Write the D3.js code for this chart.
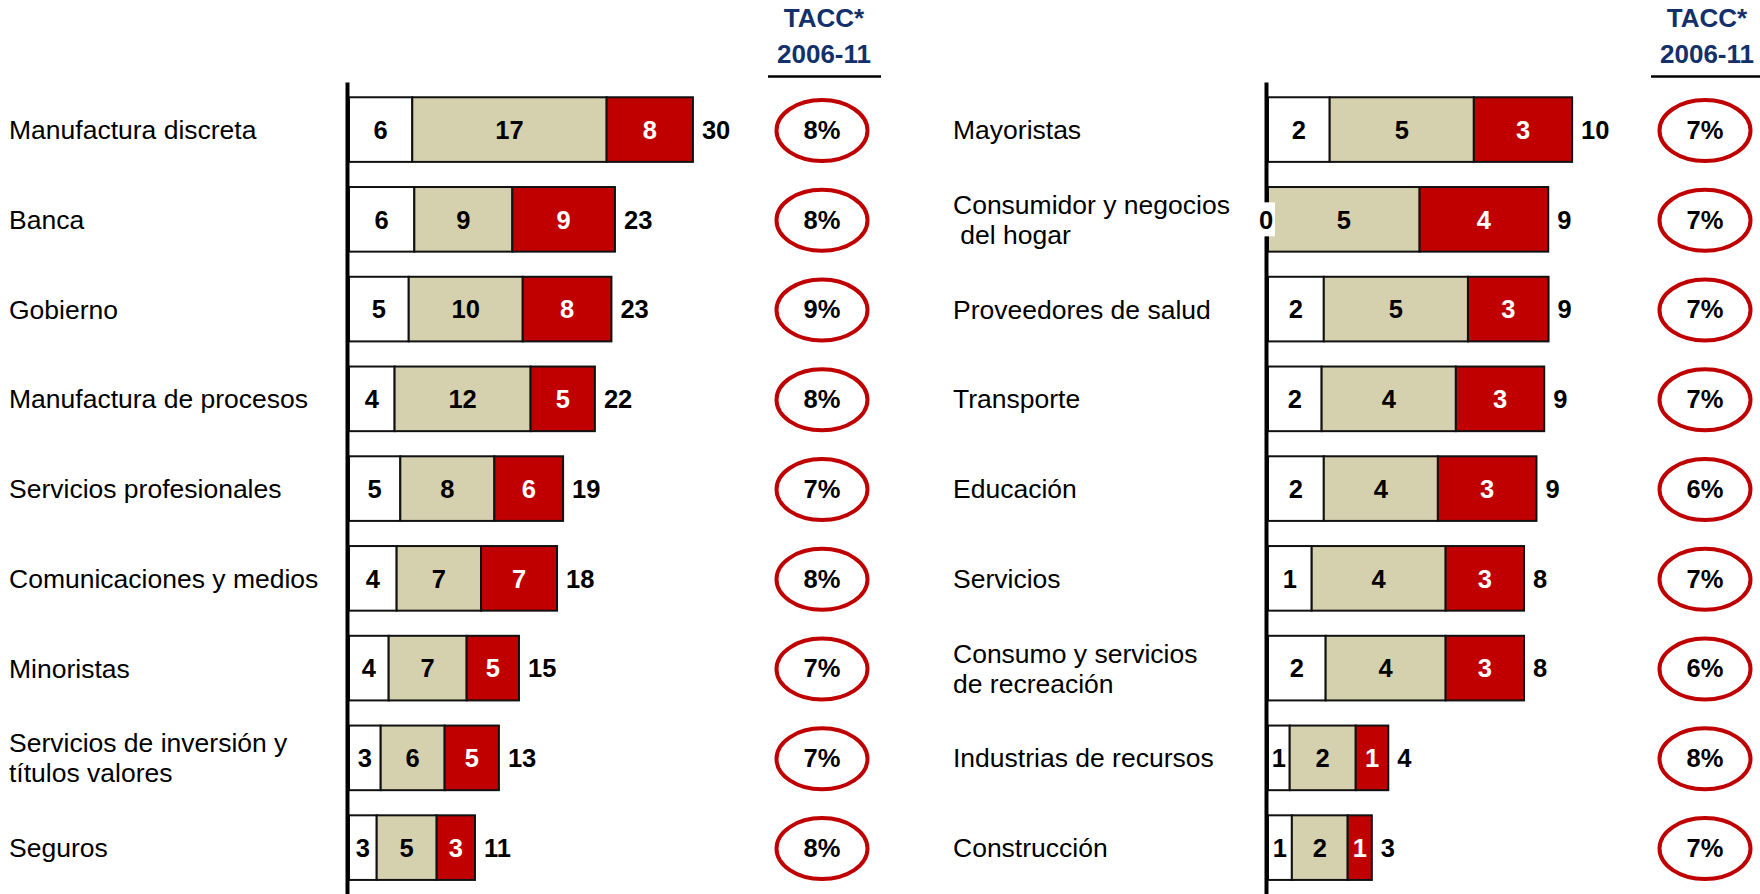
<!DOCTYPE html>
<html>
<head>
<meta charset="utf-8">
<script src="https://cdn.jsdelivr.net/npm/d3@7/dist/d3.min.js"></script>
<style>
  html, body { margin: 0; padding: 0; background: #fff; }
  svg { display: block; }
  text { font-family: "Liberation Sans", Arial, sans-serif; white-space: pre; }
</style>
</head>
<body>
<svg id="chart" width="1760" height="894"></svg>
<script>
// ---------- DATA ----------
const leftCategories = [
  ["Manufactura discreta"],
  ["Banca"],
  ["Gobierno"],
  ["Manufactura de procesos"],
  ["Servicios profesionales"],
  ["Comunicaciones y medios"],
  ["Minoristas"],
  ["Servicios de inversión y", "títulos valores"],
  ["Seguros"]
];
// segment values (white, tan, red)
const leftWhite = [5.55, 5.73, 5.24, 4.00, 4.50, 4.18, 3.48, 2.78, 2.43];
const leftTan   = [17.05, 8.60, 10.00, 11.93, 8.25, 7.40, 6.84, 5.61, 5.26];
const leftRed   = [7.57, 9.00, 7.78, 5.64, 6.03, 6.67, 4.59, 4.76, 3.36];
// labels printed on the chart
const leftWhiteLabels = ["6", "6", "5", "4", "5", "4", "4", "3", "3"];
const leftTanLabels   = ["17", "9", "10", "12", "8", "7", "7", "6", "5"];
const leftRedLabels   = ["8", "9", "8", "5", "6", "7", "5", "5", "3"];
const leftTotalLabels = ["30", "23", "23", "22", "19", "18", "15", "13", "11"];
const leftTacc        = ["8%", "8%", "9%", "8%", "7%", "8%", "7%", "7%", "8%"];

const rightCategories = [
  ["Mayoristas"],
  ["Consumidor y negocios", " del hogar"],
  ["Proveedores de salud"],
  ["Transporte"],
  ["Educación"],
  ["Servicios"],
  ["Consumo y servicios", "de recreación"],
  ["Industrias de recursos"],
  ["Construcción"]
];
const rightWhite = [1.99, 0.00, 1.80, 1.73, 1.80, 1.41, 1.86, 0.70, 0.77];
const rightTan   = [4.65, 4.89, 4.65, 4.33, 3.68, 4.32, 3.87, 2.13, 1.80];
const rightRed   = [3.17, 4.15, 2.60, 2.85, 3.18, 2.53, 2.53, 1.05, 0.78];
const rightWhiteLabels = ["2", "0", "2", "2", "2", "1", "2", "1", "1"];
const rightTanLabels   = ["5", "5", "5", "4", "4", "4", "4", "2", "2"];
const rightRedLabels   = ["3", "4", "3", "3", "3", "3", "3", "1", "1"];
const rightTotalLabels = ["10", "9", "9", "9", "9", "8", "8", "4", "3"];
const rightTacc        = ["7%", "7%", "7%", "7%", "6%", "7%", "6%", "8%", "7%"];

const headerLines = ["TACC*", "2006-11"];
const leftDomainMax = 30;
const rightDomainMax = 10;

// ---------- STYLE ----------
const segColors = ["#ffffff", "#d5d0ad", "#c00000"];
const segTextColors = ["#000000", "#000000", "#ffffff"];
const navy = "#13306b";

const svg = d3.select("#chart");

function drawPanel(cfg) {
  const g = svg.append("g");
  const n = cfg.categories.length;
  const idx = d3.range(n);

  const x = d3.scaleLinear().domain([0, cfg.domainMax]).range([cfg.x0, cfg.x0 + cfg.width]);
  const y = d3.scaleBand().domain(idx).range([84.7, 892.5]).paddingInner(0.28).paddingOuter(0.14);

  const rows = idx.map(i => {
    const vals = [cfg.white[i], cfg.tan[i], cfg.red[i]];
    const labels = [cfg.whiteLabels[i], cfg.tanLabels[i], cfg.redLabels[i]];
    let acc = 0;
    const segs = vals.map((v, k) => {
      const s = { i, k, x0: acc, x1: acc + v, label: labels[k] };
      acc += v;
      return s;
    });
    return { i, segs, total: acc, totalLabel: cfg.totalLabels[i] };
  });

  // bars
  rows.forEach(r => {
    g.selectAll(null).data(r.segs.filter(s => s.x1 > s.x0)).enter().append("rect")
      .attr("x", s => x(s.x0))
      .attr("y", y(r.i))
      .attr("width", s => x(s.x1) - x(s.x0))
      .attr("height", y.bandwidth())
      .attr("fill", s => segColors[s.k])
      .attr("stroke", "#111")
      .attr("stroke-width", 2);
  });

  // axis line (vertical baseline)
  const axis = d3.axisLeft(d3.scaleLinear().range([82, 894])).ticks(0).tickSize(0).tickSizeOuter(0);
  const ax = g.append("g").attr("transform", `translate(${cfg.x0 - 2},0)`).call(axis);
  ax.select(".domain").attr("stroke", "#000").attr("stroke-width", 4);

  // segment labels
  rows.forEach(r => {
    r.segs.forEach(s => {
      const cx = (x(s.x0) + x(s.x1)) / 2 - (s.x1 === s.x0 ? 2 : 0);
      const cy = y(r.i) + y.bandwidth() / 2;
      if (s.x1 === s.x0) {
        g.append("rect").attr("x", cx - 9).attr("y", cy - 17).attr("width", 18).attr("height", 34).attr("fill", "#fff");
      }
      g.append("text")
        .attr("x", cx).attr("y", cy).attr("dy", "0.36em")
        .attr("text-anchor", "middle")
        .attr("font-size", 25.5).attr("font-weight", "bold")
        .attr("fill", segTextColors[s.k])
        .text(s.label);
    });
    g.append("text")
      .attr("x", x(r.total) + 9).attr("y", y(r.i) + y.bandwidth() / 2).attr("dy", "0.36em")
      .attr("text-anchor", "start")
      .attr("font-size", 25.5).attr("font-weight", "bold")
      .attr("fill", "#000")
      .text(r.totalLabel);
  });

  // category labels
  idx.forEach(i => {
    const lines = cfg.categories[i];
    const cy = y(i) + y.bandwidth() / 2;
    const lh = 30;
    lines.forEach((t, j) => {
      g.append("text")
        .attr("x", cfg.labelX)
        .attr("y", cy + (j - (lines.length - 1) / 2) * lh)
        .attr("dy", "0.36em")
        .attr("font-size", 26.5)
        .attr("fill", "#000")
        .text(t);
    });
  });

  // TACC header
  headerLines.forEach((t, j) => {
    g.append("text")
      .attr("x", cfg.taccX).attr("y", 26.7 + j * 36.6)
      .attr("text-anchor", "middle")
      .attr("font-size", 26).attr("font-weight", "bold")
      .attr("fill", navy)
      .text(t);
  });
  g.append("line")
    .attr("x1", cfg.taccX - 56).attr("x2", cfg.taccX + 57)
    .attr("y1", 76.5).attr("y2", 76.5)
    .attr("stroke", "#000").attr("stroke-width", 2.5);

  // TACC ellipses
  idx.forEach(i => {
    const cy = y(i) + y.bandwidth() / 2;
    g.append("ellipse")
      .attr("cx", cfg.taccX - 2).attr("cy", cy + 1)
      .attr("rx", 45.5).attr("ry", 30.5)
      .attr("fill", "none").attr("stroke", "#c00000").attr("stroke-width", 4);
    g.append("text")
      .attr("x", cfg.taccX - 2).attr("y", cy).attr("dy", "0.36em")
      .attr("text-anchor", "middle")
      .attr("font-size", 25.5).attr("font-weight", "bold")
      .attr("fill", "#000")
      .text(cfg.tacc[i]);
  });
}

drawPanel({
  categories: leftCategories,
  white: leftWhite, tan: leftTan, red: leftRed,
  whiteLabels: leftWhiteLabels, tanLabels: leftTanLabels, redLabels: leftRedLabels,
  totalLabels: leftTotalLabels, tacc: leftTacc,
  domainMax: leftDomainMax, x0: 349, width: 342,
  labelX: 9, taccX: 824
});

drawPanel({
  categories: rightCategories,
  white: rightWhite, tan: rightTan, red: rightRed,
  whiteLabels: rightWhiteLabels, tanLabels: rightTanLabels, redLabels: rightRedLabels,
  totalLabels: rightTotalLabels, tacc: rightTacc,
  domainMax: rightDomainMax, x0: 1268, width: 310,
  labelX: 953, taccX: 1707
});
</script>
</body>
</html>
